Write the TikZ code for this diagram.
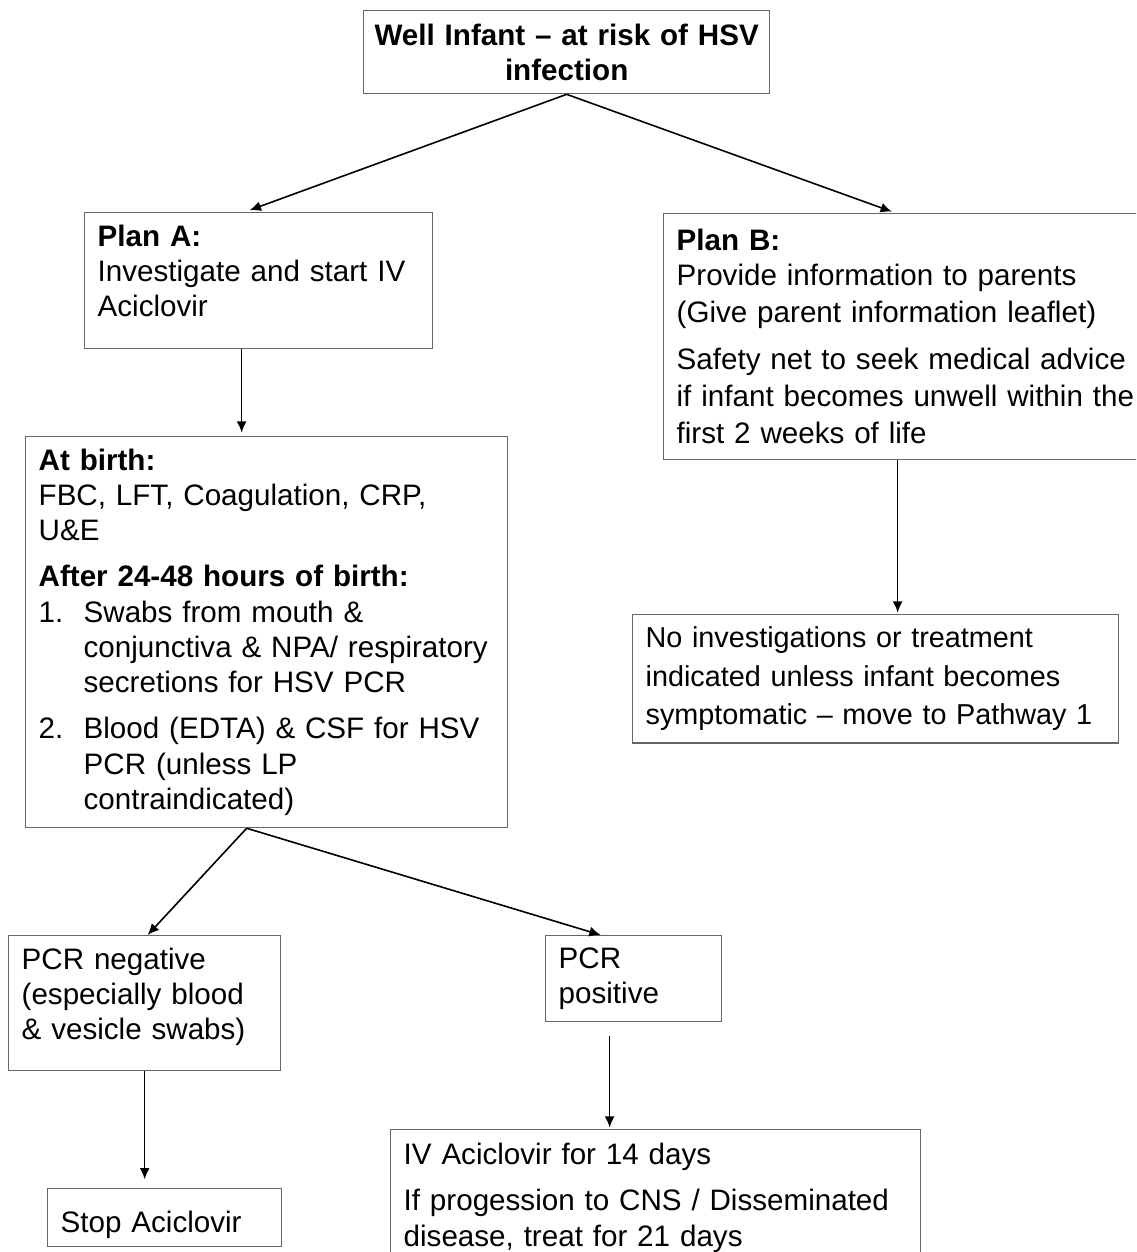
\documentclass[tikz,border=0pt]{standalone}
\usepackage{fontspec}
\setmainfont{Liberation Sans}
\usetikzlibrary{arrows.meta}

\begin{document}
\begin{tikzpicture}[
    x=0.75pt, y=-0.75pt,
    %% one unit = one pixel of the 1136 x 1252 page, y runs downwards
    box/.style={draw=black!60, line width=1pt, anchor=north west,
                inner xsep=9.75pt, inner ysep=9pt, align=left,
                font=\fontsize{22.2}{26.5}\selectfont},
    wide/.style={font=\fontsize{22.2}{28}\selectfont},
    arr/.style={-{Latex[length=8.5pt,width=7.5pt]}, line width=1.2pt},
]

\useasboundingbox (0,0) rectangle (1136,1252);
\clip (0,0) rectangle (1136,1252);

%% ── Top ──────────────────────────────────────────────────────────────────
\node[box, inner xsep=6pt, text width=292.5pt, minimum height=62.25pt,
      align=center, font=\fontsize{22.2}{26.5}\selectfont\bfseries]
    (top) at (363,10) {Well Infant – at risk of HSV\\infection};

%% ── Plans ────────────────────────────────────────────────────────────────
\node[box, text width=241.5pt, text depth=68pt] (planA) at (84,212)
    {\textbf{Plan A:}\\Investigate and start IV\\Aciclovir};

\node[box, wide, text width=355.5pt, minimum height=184.5pt] (planB) at (663,213)
    {\textbf{Plan B:}\\[-2pt]Provide information to parents\\
     (Give parent information leaflet)\\[7pt]
     Safety net to seek medical advice\\
     if infant becomes unwell within the\\
     first 2 weeks of life};

%% ── Investigations ───────────────────────────────────────────────────────
\node[box, text width=342pt, minimum height=291pt] (birth) at (25,436)
    {\textbf{At birth:}\\FBC, LFT, Coagulation, CRP,\\U\&E\\[8pt]
     \textbf{After 24-48 hours of birth:}\\
     \makebox[33.75pt][l]{1.}Swabs from mouth \&\\
     \hspace*{33.75pt}conjunctiva \& NPA/ respiratory\\
     \hspace*{33.75pt}secretions for HSV PCR\\[8pt]
     \makebox[33.75pt][l]{2.}Blood (EDTA) \& CSF for HSV\\
     \hspace*{33.75pt}PCR (unless LP\\
     \hspace*{33.75pt}contraindicated)};

\node[box, text width=345pt, minimum height=93.75pt,
      font=\fontsize{21.6}{29}\selectfont] (noinv) at (632,614)
    {No investigations or treatment\\indicated unless infant becomes\\
     symptomatic – move to Pathway 1};

%% ── Results ──────────────────────────────────────────────────────────────
\node[box, text width=184.5pt, text depth=67pt] (neg) at (8,935)
    {PCR negative\\(especially blood\\\& vesicle swabs)};

\node[box, text width=112.5pt, minimum height=62.25pt] (pos) at (545,935)
    {PCR\\positive};

\node[box, text width=156pt, text height=24pt, text depth=1.5pt] (stop) at (47,1188)
    {Stop Aciclovir};

\node[box, text width=378pt, minimum height=102pt] (iv) at (390,1129)
    {IV Aciclovir for 14 days\\[8pt]
     If progession to CNS / Disseminated\\disease, treat for 21 days};

%% ── Arrows ───────────────────────────────────────────────────────────────
\draw[arr, shorten >=4pt] (top.south) -- ([xshift=-10.5pt]planA.north);
\draw[arr, shorten >=3pt] (top.south) -- ([xshift=-13.5pt]planB.north);
\draw[arr, shorten >=2.5pt] ([xshift=-12.75pt]planA.south)
    -- ([xshift=-12.75pt]planA.south |- birth.north);
\draw[arr, shorten >=1pt] ([xshift=-12pt]planB.south)
    -- ([xshift=-12pt]planB.south |- noinv.north);
\draw[arr] ([xshift=-15pt]birth.south) -- ([xshift=2.25pt]neg.north);
\draw[arr] ([xshift=-15pt]birth.south) -- ([xshift=-24.75pt]pos.north);
\draw[arr, shorten >=6.5pt] (neg.south) -- (neg.south |- stop.north);
\draw[arr, shorten <=10.5pt, shorten >=1pt] ([xshift=-18pt]pos.south)
    -- ([xshift=-18pt]pos.south |- iv.north);

\end{tikzpicture}
\end{document}
